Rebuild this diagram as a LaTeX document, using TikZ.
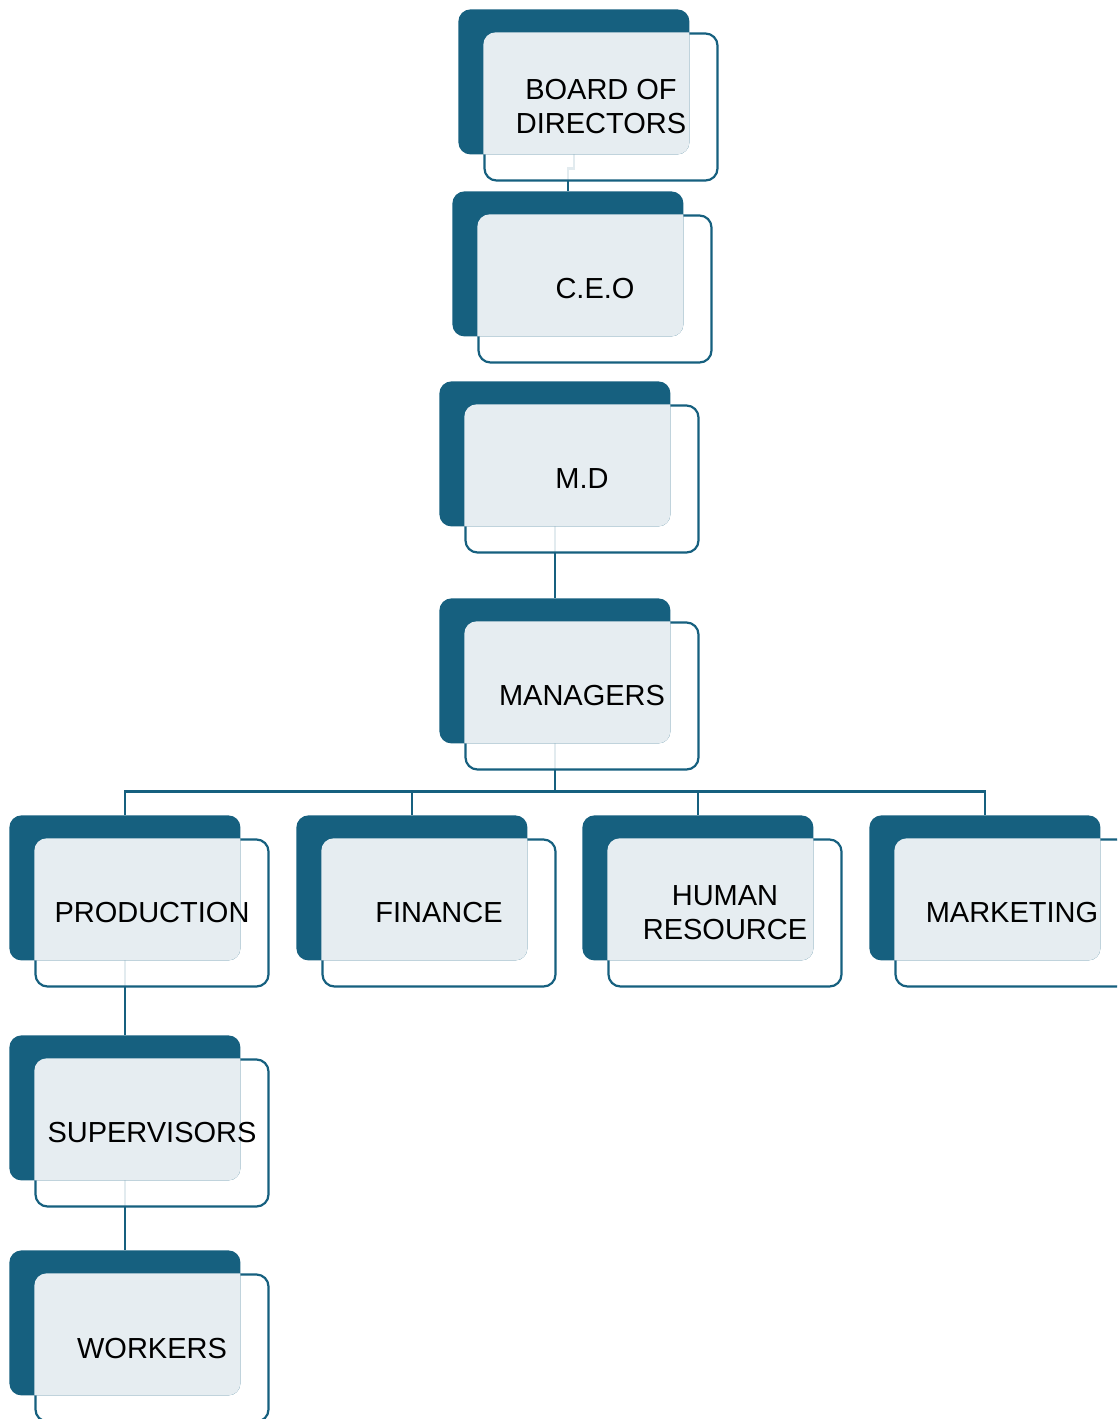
\documentclass[tikz,border=0pt]{standalone}
\usepackage{fontspec}
\setmainfont{Liberation Sans}
\usetikzlibrary{calc}
\usetikzlibrary{backgrounds}
\usetikzlibrary{positioning}
\definecolor{orgdark}{HTML}{16607F}
\definecolor{orglight}{HTML}{E6EDF1}
\tikzset{
  orgframe/.style={draw=orgdark, line width=2.2pt, fill=white, fill opacity=0.88,
    rounded corners=12pt, minimum width=233pt, minimum height=147pt, inner sep=0pt},
  orgback/.style={fill=orgdark, rounded corners=12pt, minimum width=231pt,
    minimum height=145pt, inner sep=0pt, outer sep=0pt},
  orgtext/.style={align=center, font=\fontsize{29pt}{34pt}\selectfont, text=black},
  link/.style={draw=orgdark, line width=2.2pt}
}
\newcommand\orgbox[4]{
  \node[orgframe] (#1-frame) at (#2+117,#3+74) {};
  \node[orgback, anchor=north west] (#1-back) at ($(#1-frame.north west)+(-25,-23)$) {};
  \begin{scope}
    \path[clip, rounded corners=12pt] (#1-frame.north west) rectangle (#1-frame.south east);
    \fill[orglight, rounded corners=12pt] (#1-back.north west) rectangle (#1-back.south east);
  \end{scope}
  \node[orgtext] (#1) at (#1-frame.center) {#4};
}

\begin{document}
\begin{tikzpicture}[x=1pt,y=-1pt]
  \useasboundingbox (0,0) rectangle (1117,1419);
  \clip (0,0) rectangle (1117,1419);

  % chain of command
  \orgbox{board}{484}{33}{BOARD OF\\DIRECTORS}
  \orgbox{ceo}{478}{215}{C.E.O}
  \orgbox{md}{465}{405}{M.D}
  \orgbox{mgr}{465}{622}{MANAGERS}

  % departments
  \orgbox{prod}{35}{839}{PRODUCTION}
  \orgbox{fin}{322}{839}{FINANCE}
  \orgbox{hr}{608}{839}{HUMAN\\RESOURCE}
  \orgbox{mkt}{895}{839}{MARKETING}

  \orgbox{sup}{35}{1059}{SUPERVISORS}
  \orgbox{wrk}{35}{1274}{WORKERS}

  \begin{scope}[on background layer]
    \draw[link] (board-back.south) -- ++(0,14) -| (ceo-back.north);
    \draw[link] (md-back.south) -- (mgr-back.north);
    \foreach \dept in {prod,fin,hr,mkt} {
      \draw[link] (mgr-back.south) -- ++(0,48) -| (\dept-back.north);
    }
    \draw[link] (prod-back.south) -- (sup-back.north);
    \draw[link] (sup-back.south) -- (wrk-back.north);
  \end{scope}

\end{tikzpicture}
\end{document}
